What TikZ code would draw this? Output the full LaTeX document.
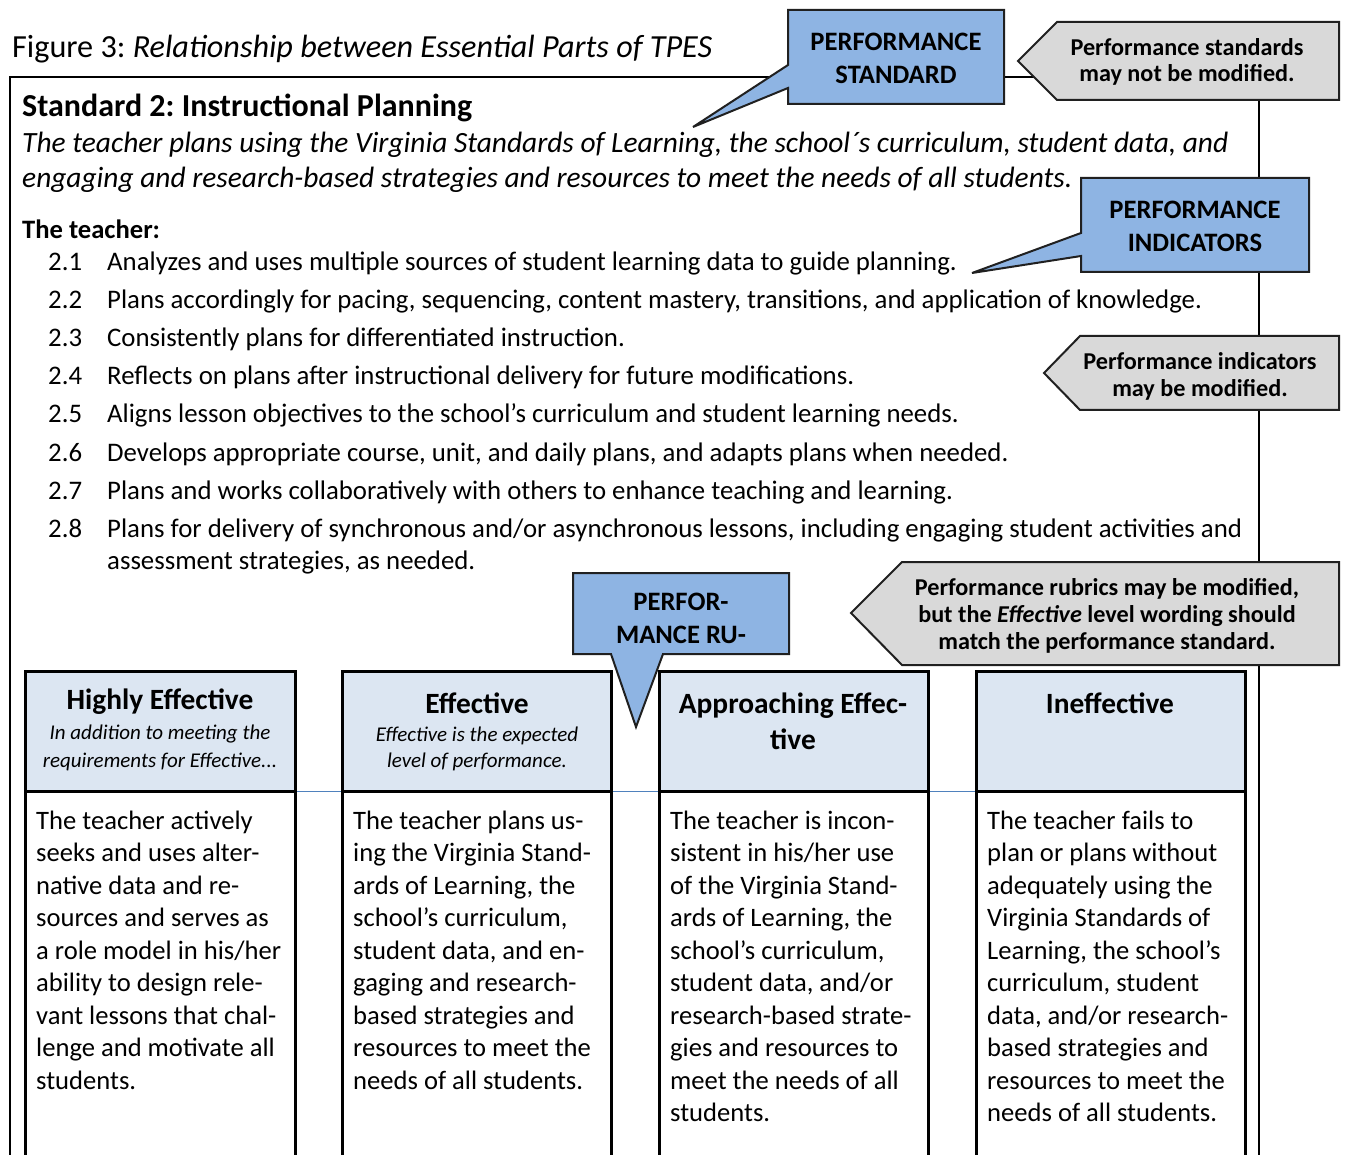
\documentclass[tikz,border=0pt]{standalone}
\usepackage{fontspec}
\setmainfont{Carlito}
\frenchspacing
\definecolor{callblue}{HTML}{8EB4E3}
\definecolor{callgray}{HTML}{D9D9D9}
\definecolor{hdrblue}{HTML}{DCE6F2}
\definecolor{thinblue}{HTML}{4F81BD}
\definecolor{edge}{HTML}{202020}
\begin{document}
\begin{tikzpicture}[x=1pt,y=-1pt,line join=miter,
  frame/.style={line width=2pt,draw=black},
  bluecall/.style={fill=callblue,draw=edge,line width=2pt},
  graycall/.style={fill=callgray,draw=edge,line width=2pt},
  colbox/.style={draw=black,line width=3pt},
  hdr/.style={fill=hdrblue},
  txt/.style={inner sep=0pt,anchor=base west},
  ctxt/.style={inner sep=0pt,anchor=base},
  itemf/.style={txt,font=\fontsize{26.8}{32}\selectfont},
  bodyf/.style={txt,font=\fontsize{26.6}{32}\selectfont},
  headf/.style={ctxt,font=\bfseries\fontsize{29.4}{34}\selectfont},
  subf/.style={ctxt,font=\itshape\fontsize{21}{25}\selectfont},
  bluef/.style={ctxt,font=\bfseries\fontsize{26.6}{32}\selectfont},
  grayf/.style={ctxt,font=\bfseries\fontsize{24.2}{29}\selectfont}]
\useasboundingbox (0,0) rectangle (1347,1155);
% outer frame
\draw[frame] (10,1160) -- (10,77) -- (1259,77) -- (1259,1160);
% title and standard
\node[txt,font=\fontsize{32.2}{36}\selectfont] (title) at (12,58) {Figure 3: \textit{Relationship between Essential Parts of TPES}};
\node[txt,font=\bfseries\fontsize{32}{38}\selectfont] (std) at (22,117) {Standard 2: Instructional Planning};
\node[txt,font=\itshape\fontsize{29.4}{35}\selectfont] (desc1) at (22,153) {The teacher plans using the Virginia Standards of Learning, the school´s curriculum, student data, and};
\node[txt,font=\itshape\fontsize{29.4}{35}\selectfont] (desc2) at (22,188) {engaging and research-based strategies and resources to meet the needs of all students.};
\node[txt,font=\bfseries\fontsize{26.6}{32}\selectfont] (teacher) at (22,239) {The teacher:};
% indicators
\foreach \t [count=\k] in {
  {Analyzes and uses multiple sources of student learning data to guide planning.},
  {Plans accordingly for pacing, sequencing, content mastery, transitions, and application of knowledge.},
  {Consistently plans for differentiated instruction.},
  {Reflects on plans after instructional delivery for future modifications.},
  {Aligns lesson objectives to the school’s curriculum and student learning needs.},
  {Develops appropriate course, unit, and daily plans, and adapts plans when needed.},
  {Plans and works collaboratively with others to enhance teaching and learning.},
  {Plans for delivery of synchronous and/or asynchronous lessons, including engaging student activities and}}
{
  \node[itemf] (num\k) at (48,{271+38*(\k-1)}) {2.\k};
  \node[itemf] (ind\k) at (107,{271+38*(\k-1)}) {\t};
}
\node[itemf] (ind9) at (107,569) {assessment strategies, as needed.};
% rubric columns
\draw[thinblue,line width=1pt] (25,791) -- (1245,791);
\foreach \xa/\xb in {25/295,342/611,659/928,976/1245}{
  \fill[hdr] (\xa,671) rectangle (\xb,791);
  \draw[colbox] (\xa,1160) -- (\xa,671) -- (\xb,671) -- (\xb,1160);
  \draw[colbox] (\xa,791) -- (\xb,791);
}
\node[headf] (h1) at (160,709) {Highly Effective};
\node[subf] (h1a) at (160,739) {In addition to meeting the};
\node[subf] (h1b) at (160,767) {requirements for Effective...};
\node[headf] (h2) at (477,713) {Effective};
\node[subf] (h2a) at (477,741) {Effective is the expected};
\node[subf] (h2b) at (477,767) {level of performance.};
\node[headf] (h3) at (793,713) {Approaching Effec-};
\node[headf] (h3b) at (793,749) {tive};
\node[headf] (h4) at (1110,713) {Ineffective};
\foreach \t [count=\k] in {{The teacher actively},{seeks and uses alter-},{native data and re-},{sources and serves as},{a role model in his/her},{ability to design rele-},{vant lessons that chal-},{lenge and motivate all},{students.}}
  \node[bodyf] (ca\k) at (36,{829+32.5*(\k-1)}) {\t};
\foreach \t [count=\k] in {{The teacher plans us-},{ing the Virginia Stand-},{ards of Learning, the},{school’s curriculum,},{student data, and en-},{gaging and research-},{based strategies and},{resources to meet the},{needs of all students.}}
  \node[bodyf] (cb\k) at (353,{829+32.5*(\k-1)}) {\t};
\foreach \t [count=\k] in {{The teacher is incon-},{sistent in his/her use},{of the Virginia Stand-},{ards of Learning, the},{school’s curriculum,},{student data, and/or},{research-based strate-},{gies and resources to},{meet the needs of all},{students.}}
  \node[bodyf] (cc\k) at (670,{829+32.5*(\k-1)}) {\t};
\foreach \t [count=\k] in {{The teacher fails to},{plan or plans without},{adequately using the},{Virginia Standards of},{Learning, the school’s},{curriculum, student},{data, and/or research-},{based strategies and},{resources to meet the},{needs of all students.}}
  \node[bodyf] (cd\k) at (987,{829+32.5*(\k-1)}) {\t};
% blue callouts
\draw[bluecall] (788,10) -- (1004,10) -- (1004,104) -- (788,104) -- (788,88) -- (693,127) -- (788,65) -- cycle;
\node[bluef] (ps1) at (896,50.5) {PERFORMANCE};
\node[bluef] (ps2) at (896,83.5) {STANDARD};
\draw[bluecall] (1081,178) -- (1309,178) -- (1309,272) -- (1081,272) -- (1081,256) -- (972,273) -- (1081,233) -- cycle;
\node[bluef] (pi1) at (1195,218.5) {PERFORMANCE};
\node[bluef] (pi2) at (1195,251.5) {INDICATORS};
\draw[bluecall] (573,573) -- (789,573) -- (789,654) -- (663,654) -- (636,727) -- (611,654) -- (573,654) -- cycle;
\node[bluef] (pr1) at (681,610.5) {PERFOR-};
\node[bluef] (pr2) at (681,643.5) {MANCE RU-};
% gray callouts
\draw[graycall] (1018,61) -- (1057,22) -- (1339,22) -- (1339,100) -- (1057,100) -- cycle;
\node[grayf] (g1a) at (1187,56) {Performance standards};
\node[grayf] (g1b) at (1187,82) {may not be modified.};
\draw[graycall] (1044,373) -- (1080,336) -- (1339,336) -- (1339,410) -- (1080,410) -- cycle;
\node[grayf] (g2a) at (1200,370) {Performance indicators};
\node[grayf] (g2b) at (1200,397) {may be modified.};
\draw[graycall] (851,613) -- (902,562) -- (1339,562) -- (1339,665) -- (902,665) -- cycle;
\node[grayf] (g3a) at (1107,595) {Performance rubrics may be modified,};
\node[grayf] (g3b) at (1107,622) {but the \textit{Effective} level wording should};
\node[grayf] (g3c) at (1107,649) {match the performance standard.};
\end{tikzpicture}
\end{document}
